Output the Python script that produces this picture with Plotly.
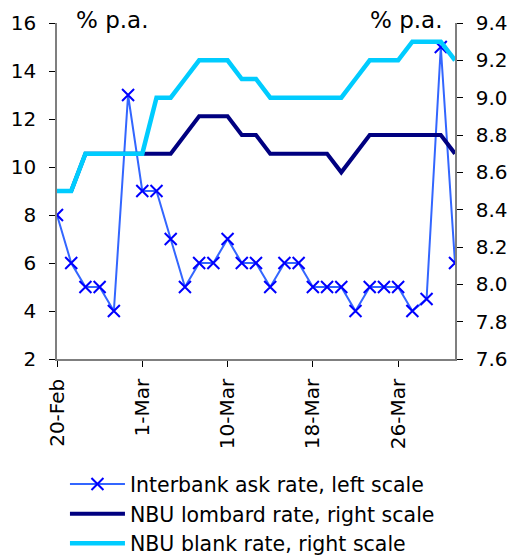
import plotly.graph_objects as go

# Trading-day labels along the horizontal axis
dates = ["20-Feb", "21-Feb", "22-Feb", "25-Feb", "26-Feb", "27-Feb", "1-Mar",
         "3-Mar", "4-Mar", "5-Mar", "6-Mar", "7-Mar", "10-Mar", "11-Mar",
         "12-Mar", "13-Mar", "14-Mar", "17-Mar", "18-Mar", "19-Mar", "20-Mar",
         "21-Mar", "24-Mar", "25-Mar", "26-Mar", "27-Mar", "28-Mar", "31-Mar",
         "1-Apr"]
shown_dates = ["20-Feb", "1-Mar", "10-Mar", "18-Mar", "26-Mar"]

# Interbank ask rate, % p.a. (left scale)
interbank = [8, 6, 5, 5, 4, 13, 9, 9, 7, 5, 6, 6, 7, 6, 6, 5, 6, 6, 5, 5, 5,
             4, 5, 5, 5, 4, 4.5, 15, 6]
# NBU lombard rate, % p.a. (right scale)
lombard = [8.5, 8.5, 8.7, 8.7, 8.7, 8.7, 8.7, 8.7, 8.7, 8.8, 8.9, 8.9, 8.9,
           8.8, 8.8, 8.7, 8.7, 8.7, 8.7, 8.7, 8.6, 8.7, 8.8, 8.8, 8.8, 8.8,
           8.8, 8.8, 8.7]
# NBU blank rate, % p.a. (right scale)
blank = [8.5, 8.5, 8.7, 8.7, 8.7, 8.7, 8.7, 9.0, 9.0, 9.1, 9.2, 9.2, 9.2,
         9.1, 9.1, 9.0, 9.0, 9.0, 9.0, 9.0, 9.0, 9.1, 9.2, 9.2, 9.2, 9.3,
         9.3, 9.3, 9.2]

FONT = "DejaVu Sans"
AXIS_COLOR = "#7f7f7f"
x = list(range(len(dates)))
tickpos = [dates.index(d) for d in shown_dates]

fig = go.Figure()
fig.add_trace(go.Scatter(
    x=x, y=lombard, yaxis="y2", mode="lines", legendrank=2,
    name="NBU lombard rate, right scale",
    line=dict(color="#000080", width=4),
))
fig.add_trace(go.Scatter(
    x=x, y=blank, yaxis="y2", mode="lines", legendrank=3,
    name="NBU blank rate, right scale",
    line=dict(color="#00CCFF", width=4.5),
))
fig.add_trace(go.Scatter(
    x=x, y=interbank, yaxis="y", mode="lines+markers", legendrank=1,
    name="Interbank ask rate, left scale",
    line=dict(color="#3366FF", width=2),
    marker=dict(symbol="x-thin", size=12, color="#0000FF",
                line=dict(color="#0000FF", width=2)),
))

tickfont = dict(family=FONT, size=20, color="#000000")
legendfont = dict(family=FONT, size=20.5, color="#000000")
unitfont = dict(family=FONT, size=23, color="#000000")
xr = [0, len(dates) - 1]

fig.update_layout(
    width=507, height=558,
    margin=dict(l=57, r=52, t=23, b=199, autoexpand=False),
    paper_bgcolor="white", plot_bgcolor="white",
    font=dict(family=FONT, size=20, color="#000000"),
    showlegend=True,
    legend=dict(
        traceorder="normal",
        x=0.02, xanchor="left", y=-0.313, yanchor="top",
        font=legendfont,
        itemwidth=55, tracegroupgap=0,
        bgcolor="rgba(0,0,0,0)",
    ),
    xaxis=dict(
        range=xr, tickmode="array", tickvals=tickpos, ticktext=shown_dates,
        tickangle=-90, ticks="outside", ticklen=6, tickcolor="#000000",
        showline=True, linecolor=AXIS_COLOR, linewidth=1.5,
        showgrid=False, zeroline=False, tickfont=tickfont,
        ticklabelstandoff=4, automargin=False,
    ),
    xaxis2=dict(
        range=xr, overlaying="x", tickmode="array", tickvals=tickpos,
        ticks="inside", ticklen=6, tickcolor="#000000", showticklabels=False,
        showline=False, showgrid=False, zeroline=False, automargin=False,
    ),
    yaxis=dict(
        range=[2, 16], dtick=2, ticks="outside", ticklen=6,
        tickcolor="#000000", showline=True, linecolor=AXIS_COLOR,
        linewidth=1.5, showgrid=False, zeroline=False, tickfont=tickfont,
        ticklabelstandoff=9, automargin=False,
    ),
    yaxis3=dict(
        range=[2, 16], dtick=2, overlaying="y", ticks="inside", ticklen=6,
        tickcolor="#000000", showticklabels=False, showline=False,
        showgrid=False, zeroline=False, automargin=False,
    ),
    yaxis2=dict(
        range=[7.6, 9.4], dtick=0.2, tickformat=".1f", overlaying="y",
        side="right", ticks="outside", ticklen=6, tickcolor="#000000",
        showline=True, linecolor=AXIS_COLOR, linewidth=1.5,
        showgrid=False, zeroline=False, tickfont=tickfont,
        ticklabelstandoff=9, automargin=False,
    ),
    yaxis4=dict(
        range=[7.6, 9.4], dtick=0.2, overlaying="y", side="right",
        ticks="inside", ticklen=6, tickcolor="#000000",
        showticklabels=False, showline=False, showgrid=False, zeroline=False,
        automargin=False,
    ),
    annotations=[
        dict(text="% p.a.", xref="paper", yref="paper", x=0.043, y=1.008,
             xanchor="left", yanchor="middle", showarrow=False,
             font=unitfont),
        dict(text="% p.a.", xref="paper", yref="paper", x=0.972, y=1.008,
             xanchor="right", yanchor="middle", showarrow=False,
             font=unitfont),
    ],
)

fig.write_html("out.html")
